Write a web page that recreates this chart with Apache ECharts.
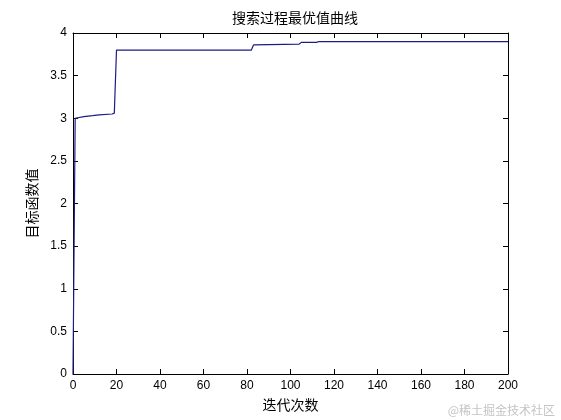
<!DOCTYPE html>
<html lang="zh">
<head>
    <meta charset="UTF-8">
    <script src="https://cdn.jsdelivr.net/npm/echarts@6/dist/echarts.min.js"></script>
    <title>搜索过程最优值曲线</title>
    <style>
        html, body { margin: 0; padding: 0; background: #fff; }
        #main { width: 561px; height: 420px; }
    </style>
</head>
<body>
<div id="main"></div>
<script>
    // 迭代次数 / 当前最优值
    var iters = [0, 0.8, 1, 5, 9, 12, 18, 19, 20, 82, 83, 104, 105, 112, 113, 200];
    var best = [0, 0, 3.0, 3.02, 3.03, 3.04, 3.05, 3.06, 3.8, 3.8, 3.86, 3.87, 3.89, 3.89, 3.9, 3.9];
    var xTicks = [0, 20, 40, 60, 80, 100, 120, 140, 160, 180, 200];
    var yTicks = [0, 0.5, 1, 1.5, 2, 2.5, 3, 3.5, 4];

    var font = 'Liberation Sans, Arial, sans-serif';
    var cjk = 'Noto Sans CJK SC, sans-serif';

    var chart = echarts.init(document.getElementById('main'));

    var points = [];
    for (var i = 0; i < iters.length; i++) {
        points.push([iters[i], best[i]]);
    }

    function axisCommon(show) {
        return {
            axisLine: { show: true, onZero: false, lineStyle: { color: '#000', width: 1 } },
            axisTick: { show: true, inside: true, length: 5, lineStyle: { color: '#000' } },
            splitLine: { show: false },
            axisLabel: { show: show, color: '#000', fontSize: 12, fontFamily: font, margin: 6 }
        };
    }

    var option = {
        backgroundColor: '#fff',
        animation: false,
        title: {
            text: '搜索过程最优值曲线',
            left: 290,
            textAlign: 'center',
            top: 6,
            textStyle: { fontSize: 14, fontWeight: 'normal', color: '#000', fontFamily: cjk }
        },
        grid: { left: 73, right: 53, top: 33, bottom: 46, containLabel: false },
        xAxis: [
            Object.assign({
                type: 'value', min: 0, max: 200, interval: 20,
                name: '迭代次数', nameLocation: 'middle', nameGap: 24,
                nameTextStyle: { fontSize: 14, color: '#000', fontFamily: cjk }
            }, axisCommon(true)),
            Object.assign({
                type: 'value', min: 0, max: 200, interval: 20, position: 'top'
            }, axisCommon(false))
        ],
        yAxis: [
            Object.assign({
                type: 'value', min: 0, max: 4, interval: 0.5,
                name: '目标函数值', nameLocation: 'middle', nameGap: 34,
                nameTextStyle: { fontSize: 14, color: '#000', fontFamily: cjk }
            }, axisCommon(true)),
            Object.assign({
                type: 'value', min: 0, max: 4, interval: 0.5, position: 'right'
            }, axisCommon(false))
        ],
        series: [{
            type: 'line',
            data: points,
            showSymbol: false,
            lineStyle: { color: '#1c1c84', width: 1.2 }
        }],
        graphic: [{
            type: 'text',
            right: 6,
            bottom: 4,
            style: { text: '@稀土掘金技术社区', fontSize: 12, fill: '#c4c4c4', fontFamily: cjk }
        }]
    };
    chart.setOption(option);
</script>
</body>
</html>
